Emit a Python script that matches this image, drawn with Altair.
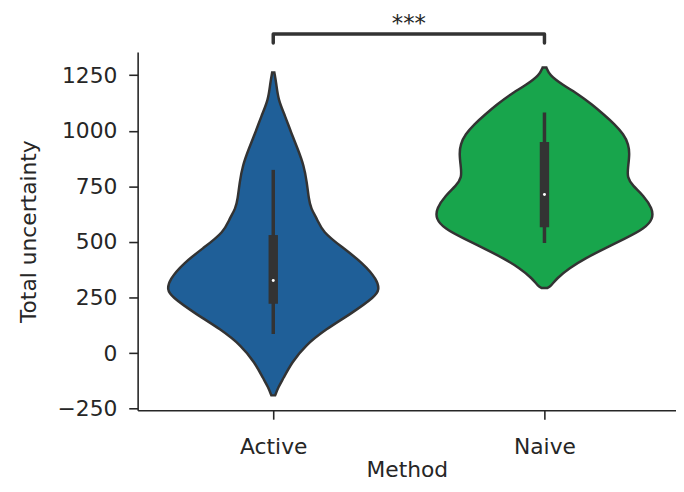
import altair as alt
import pandas as pd

# ---- data ----
methods = ["Active", "Naive"]
positions = [0, 1]
colors = ["#1f5f98", "#18a54c"]

# violin outlines: value and half-width (in category units)
active_values = [-190, -152, -116, -41, 33, 107, 181, 255, 285, 330, 404, 478,
                 545, 605, 650, 694, 768, 843, 917, 991, 1066, 1140, 1215, 1262]
active_half = [0.007, 0.019, 0.036, 0.069, 0.117, 0.193, 0.292, 0.376, 0.391, 0.383,
               0.332, 0.252, 0.182, 0.161, 0.139, 0.131, 0.124, 0.113, 0.091, 0.066,
               0.044, 0.018, 0.011, 0.004]
naive_values = [293, 300, 338, 382, 426, 471, 516, 560, 605, 650, 709, 753,
                790, 835, 895, 939, 984, 1029, 1073, 1118, 1162, 1207, 1251, 1284]
naive_half = [0.011, 0.022, 0.047, 0.091, 0.150, 0.223, 0.299, 0.369, 0.401, 0.398,
              0.365, 0.325, 0.305, 0.308, 0.314, 0.310, 0.292, 0.259, 0.219, 0.175,
              0.128, 0.066, 0.018, 0.007]

# inner box statistics
whisker_lo = [86, 495]
whisker_hi = [824, 1082]
q1 = [222, 566]
q3 = [531, 949]
median = [327, 713]

# significance bracket
bracket_x = [0, 0, 1, 1]
bracket_y = [1395, 1435, 1435, 1395]
star_label = "***"
star_x = 0.5
star_y = 1448

y_ticks = [-250, 0, 250, 500, 750, 1000, 1250]

# ---- tables ----
rows = []
for m, p, vals, halfs in [("Active", 0, active_values, active_half),
                          ("Naive", 1, naive_values, naive_half)]:
    for v, h in zip(vals, halfs):
        rows.append({"method": m, "value": v, "lo": p - h, "hi": p + h})
vdf = pd.DataFrame(rows)

bdf = pd.DataFrame({"method": methods, "pos": positions, "wlo": whisker_lo,
                    "whi": whisker_hi, "q1": q1, "q3": q3, "med": median})
brdf = pd.DataFrame({"bx": bracket_x, "by": bracket_y, "bo": list(range(len(bracket_x)))})
tdf = pd.DataFrame({"tx": [star_x], "ty": [star_y], "label": [star_label]})

FONT = "DejaVu Sans"
DARK = "#333333"

xscale = alt.Scale(domain=[-0.5, 1.485], nice=False, zero=False)
yscale = alt.Scale(domain=[-257, 1354], nice=False, zero=False)

xaxis = alt.Axis(values=[0, 1], labelExpr="datum.value == 0 ? 'Active' : 'Naive'",
                 grid=False, tickSize=9, labelPadding=35, labelBaseline="alphabetic",
                 titleBaseline="alphabetic", titleY=67)
yaxis = alt.Axis(values=y_ticks, grid=False, tickSize=9, labelPadding=12, format="d",
                 labelExpr="replace(datum.label, '-', '\u2212')",
                 titleX=-103, titleY=181, titleBaseline="alphabetic",
                 titleAngle=270, titleAlign="center")


def X(field):
    return alt.X(field, scale=xscale, axis=xaxis, title="Method", stack=False)


def Y(field):
    return alt.Y(field, scale=yscale, axis=yaxis, title="Total uncertainty", stack=False)


violin = alt.Chart(vdf).mark_area(
    orient="horizontal", interpolate="basis", stroke=DARK, strokeWidth=2.5,
    opacity=1, fillOpacity=1
).encode(
    y=Y("value:Q"),
    x=X("lo:Q"),
    x2=alt.X2("hi:Q"),
    color=alt.Color("method:N", scale=alt.Scale(domain=methods, range=colors), legend=None),
    detail="method:N",
)

whisk = alt.Chart(bdf).mark_rule(color=DARK, strokeWidth=3.5).encode(
    x=X("pos:Q"), y=Y("wlo:Q"), y2=alt.Y2("whi:Q"))

box = alt.Chart(bdf).mark_rule(color=DARK, strokeWidth=9.5, strokeCap="butt").encode(
    x=X("pos:Q"), y=Y("q1:Q"), y2=alt.Y2("q3:Q"))

med = alt.Chart(bdf).mark_point(filled=True, color="white", size=9, opacity=1,
                                shape="circle").encode(x=X("pos:Q"), y=Y("med:Q"))

bracket = alt.Chart(brdf).mark_line(clip=False, color=DARK, strokeWidth=3.5,
                                    strokeCap="round", strokeJoin="round").encode(
    x=X("bx:Q"), y=Y("by:Q"), order="bo:Q")

stars = alt.Chart(tdf).mark_text(clip=False, font=FONT, fontSize=23, color="#262626",
                                 baseline="alphabetic", align="center").encode(
    x=X("tx:Q"), y=Y("ty:Q"), text="label:N")

chart = alt.layer(violin, whisk, box, med, bracket, stars).properties(
    width=544, height=362,
    autosize=alt.AutoSizeParams(type="none"),
    padding={"left": 131, "top": 42, "right": 0, "bottom": 72},
).configure_view(strokeWidth=0).configure_axis(
    domainColor="#262626", domainWidth=1.6, tickColor="#262626", tickWidth=1.6,
    labelFont=FONT, labelFontSize=22, labelColor="#262626",
    titleFont=FONT, titleFontSize=22, titleColor="#262626", titleFontWeight="normal",
)

chart.save("out.html", embed_options={"renderer": "svg", "actions": False})
